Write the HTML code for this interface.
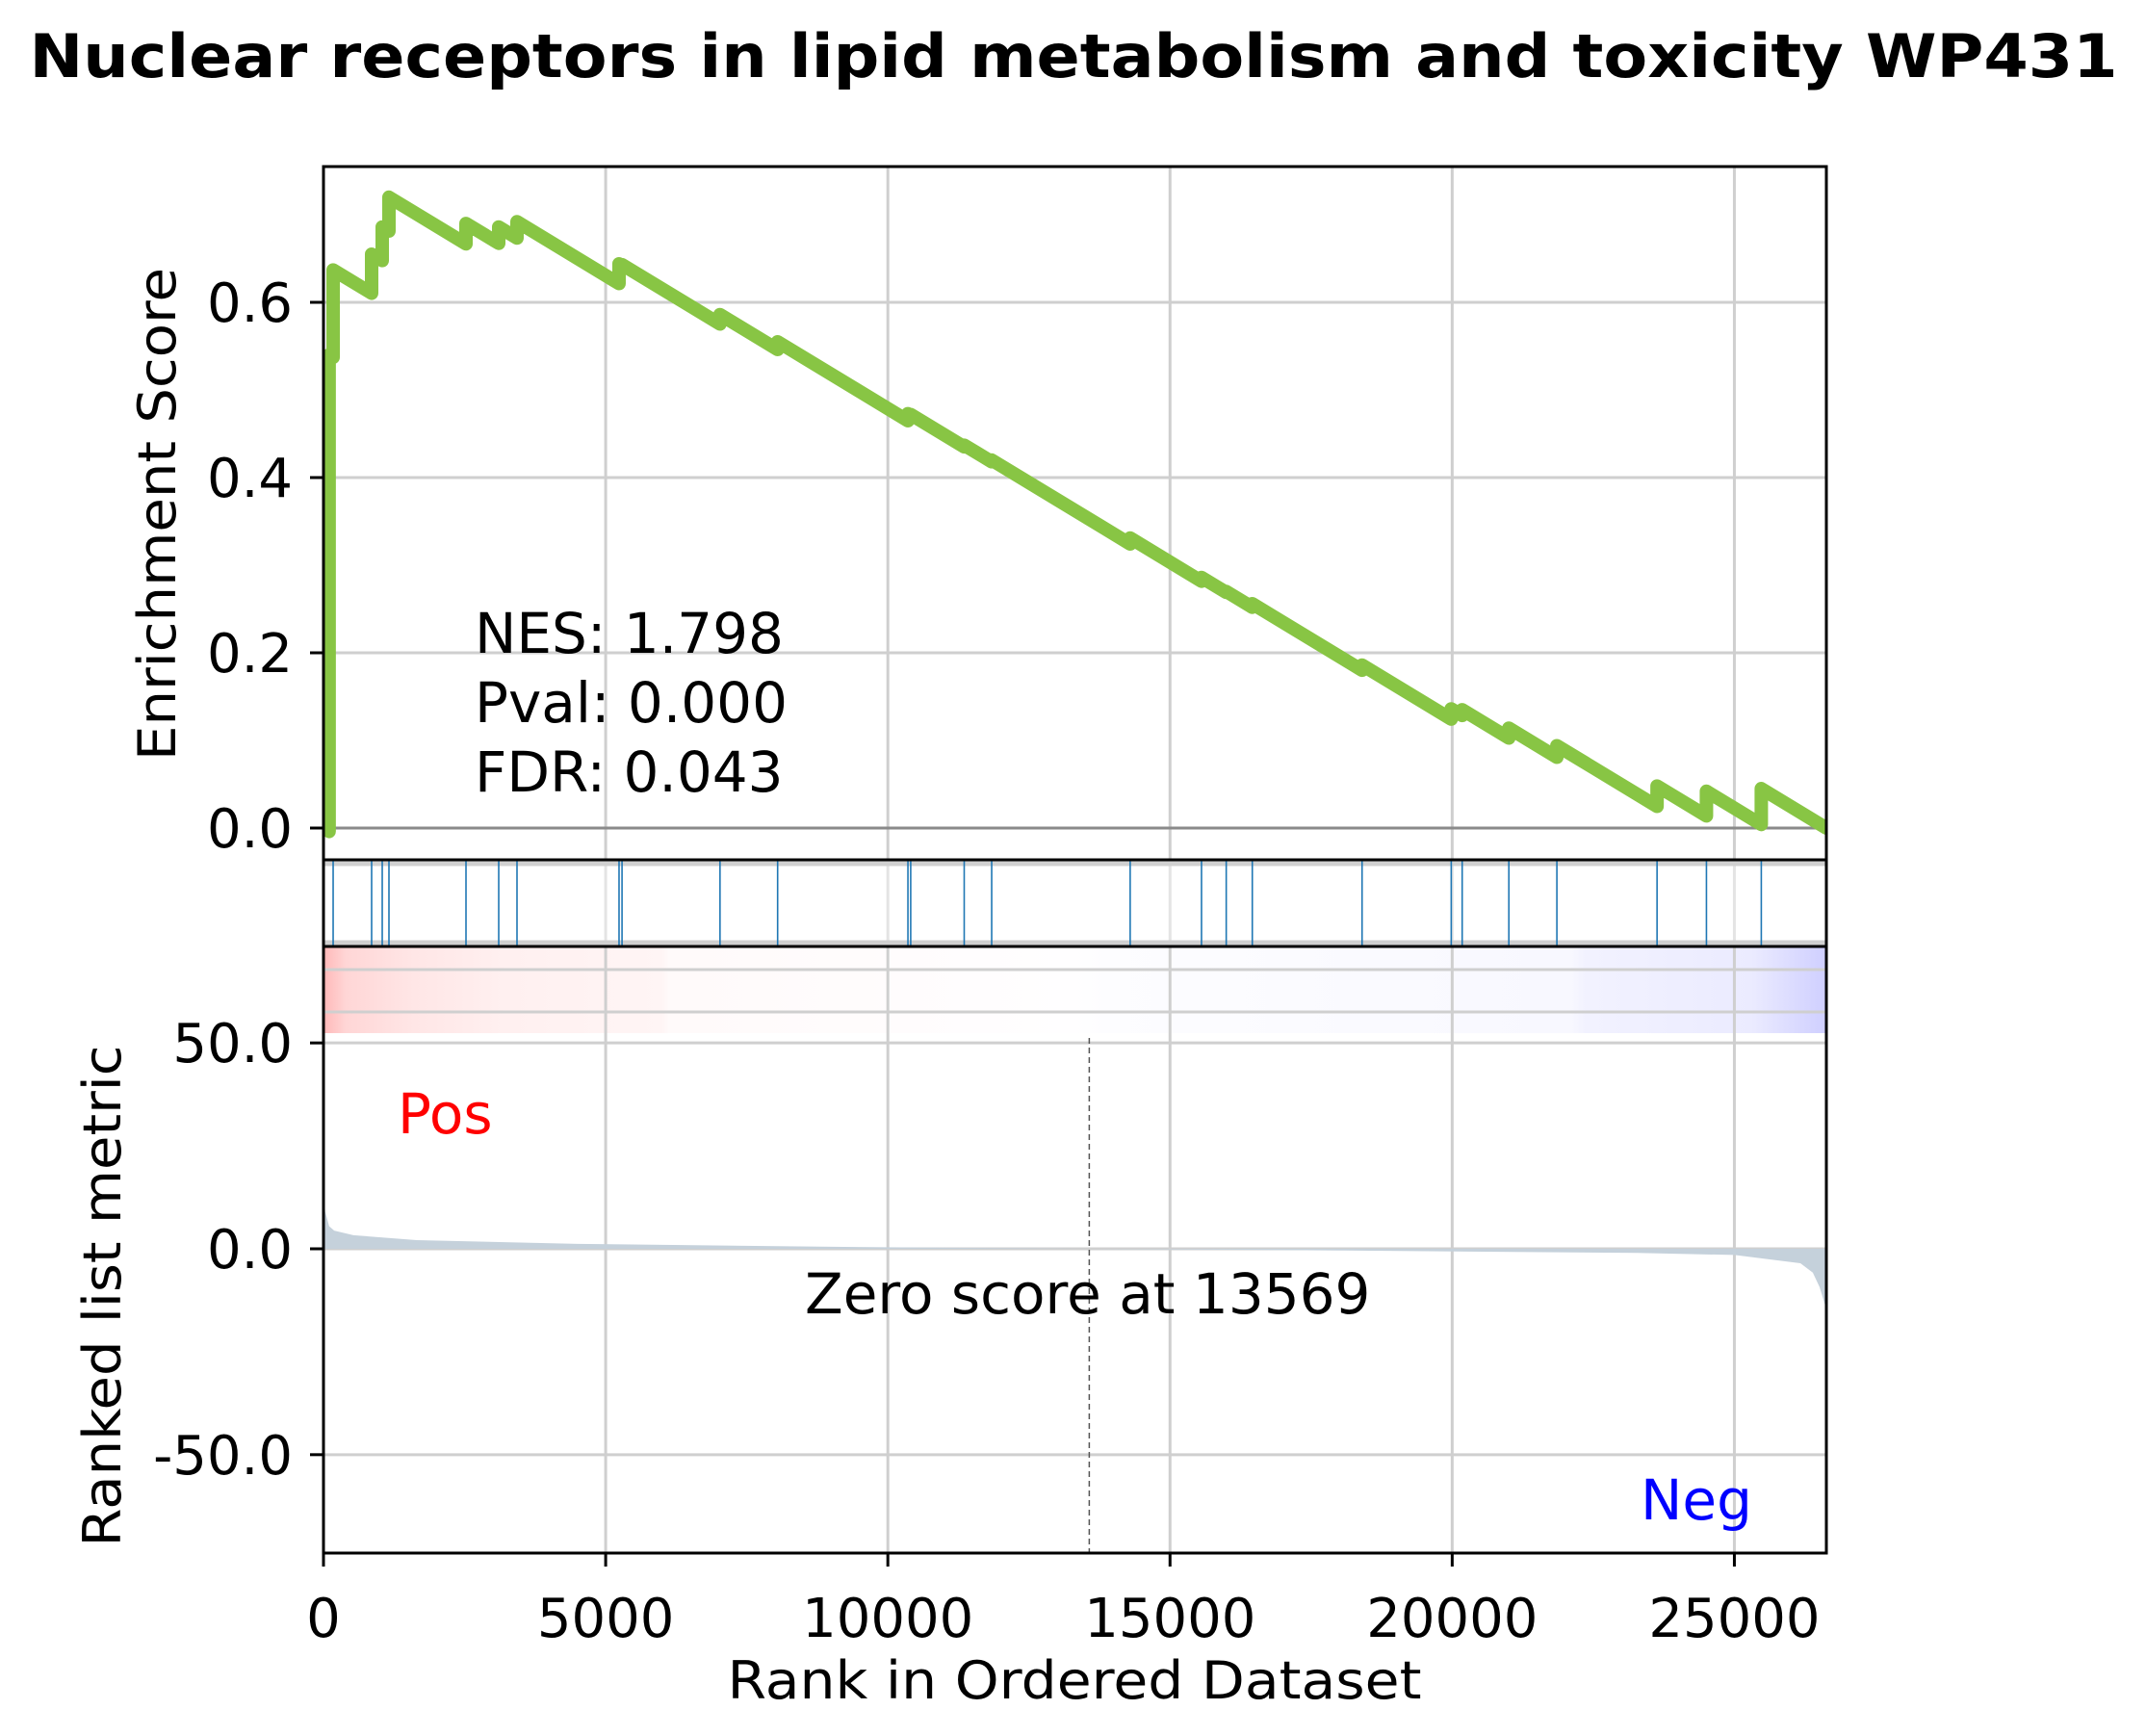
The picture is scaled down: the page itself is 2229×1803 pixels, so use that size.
<!DOCTYPE html>
<html><head><meta charset="utf-8"><style>
html,body{margin:0;padding:0;background:#fff}
svg{display:block;font-family:"DejaVu Sans","Liberation Sans",sans-serif}
</style></head><body>
<svg id="chart" width="2229" height="1803" viewBox="0 0 2229 1803" xmlns="http://www.w3.org/2000/svg">
<defs>
<linearGradient id="rankGrad" x1="0" x2="1" y1="0" y2="0">
<stop offset="0" stop-color="#ffb8b8"/>
<stop offset="0.015" stop-color="#ffd6d6"/>
<stop offset="0.06" stop-color="#ffe6e6"/>
<stop offset="0.12" stop-color="#fff0f0"/>
<stop offset="0.225" stop-color="#fff5f5"/>
<stop offset="0.23" stop-color="#fffafa"/>
<stop offset="0.5" stop-color="#fffeff"/>
<stop offset="0.52" stop-color="#fdfdff"/>
<stop offset="0.83" stop-color="#f8f8ff"/>
<stop offset="0.84" stop-color="#f2f2ff"/>
<stop offset="0.95" stop-color="#ebebff"/>
<stop offset="1" stop-color="#cfcfff"/>
</linearGradient>
<clipPath id="esClipPath"><rect x="336" y="173" width="1561" height="720"/></clipPath>
</defs>
<text x="1115" y="80" font-size="62" font-weight="bold" text-anchor="middle" textLength="2169" lengthAdjust="spacingAndGlyphs">Nuclear receptors in lipid metabolism and toxicity WP431</text>
<g id="esPanel"></g>
<g id="hitPanel"></g>
<g id="rankPanel"></g>
<text transform="translate(182,534) rotate(-90)" font-size="54" text-anchor="middle" textLength="512" lengthAdjust="spacingAndGlyphs">Enrichment Score</text>
<text transform="translate(125,1346) rotate(-90)" font-size="54" text-anchor="middle" textLength="521" lengthAdjust="spacingAndGlyphs">Ranked list metric</text>
<text x="1116" y="1764" font-size="54" text-anchor="middle" textLength="721" lengthAdjust="spacingAndGlyphs">Rank in Ordered Dataset</text>
</svg>
<script>
const N = 26630;
const hitRanks = [100,171,853,1041,1160,2525,3105,3429,5237,5290,7026,8047,10356,10405,11353,11840,14294,15558,15996,16458,18403,19983,20177,21004,21855,23630,24505,25477];
const esAfterHit = [0.54,0.637,0.655,0.686,0.72,0.69,0.686,0.692,0.644,0.643,0.586,0.555,0.473,0.472,0.437,0.42,0.331,0.286,0.27,0.256,0.186,0.136,0.135,0.114,0.094,0.048,0.042,0.045];
const metricRanks = [0,30,100,190,530,1650,4500,9000,13569,18000,23270,25000,26170,26390,26510,26630];
const metricValues = [14,9,5.5,4.4,3.3,2.1,1.2,0.5,0,-0.4,-1.0,-1.5,-3.5,-5.8,-9.3,-14.7];
const xTicks = [0,5000,10000,15000,20000,25000];
const xTickLabels = ["0","5000","10000","15000","20000","25000"];
const esTicks = [0,0.2,0.4,0.6];
const esTickLabels = ["0.0","0.2","0.4","0.6"];
const mTicks = [50,0,-50];
const mTickLabels = ["50.0","0.0","-50.0"];
const zeroScoreRank = 13569;
const statLines = ["NES: 1.798","Pval: 0.000","FDR: 0.043"];

const NS = "http://www.w3.org/2000/svg";
const L = 336, R = 1897;
const ES_T = 173, ES_B = 893, HIT_B = 983, M_B = 1613;
const xS = r => L + r * (R - L) / N;
const esY = v => 860 - v * 910;
const mY = v => 1297 - v * 4.2765;
function mk(tag, attrs, parent) {
  const e = document.createElementNS(NS, tag);
  for (const k in attrs) e.setAttribute(k, attrs[k]);
  parent.appendChild(e);
  return e;
}
const es = document.getElementById('esPanel');
const hp = document.getElementById('hitPanel');
const rp = document.getElementById('rankPanel');
const TICKF = 56, ANNF = 58;

xTicks.forEach((t, i) => {
  const g = mk('line', {x1: xS(t), x2: xS(t), y1: ES_T, y2: ES_B, stroke: '#cfcfcf', 'stroke-width': 3}, es);
  
  
});
esTicks.forEach((t, i) => {
  const g = mk('line', {x1: L, x2: R, y1: esY(t), y2: esY(t), stroke: t === 0 ? '#8a8a8a' : '#cfcfcf', 'stroke-width': 3}, es);
  
  
  const tk = mk('line', {x1: L - 14, x2: L, y1: esY(t), y2: esY(t), stroke: '#000', 'stroke-width': 3}, es);
  
  
  const lb = mk('text', {x: 304, y: esY(t) + 20, 'font-size': TICKF, 'text-anchor': 'end'}, es);
  lb.textContent = esTickLabels[i];
  
  
});
let d = 'M' + (xS(0) + 5) + ',' + esY(0);
const slope = esAfterHit[esAfterHit.length - 1] / (N - hitRanks[hitRanks.length - 1]);
let prevR = 0, prevV = 0;
hitRanks.forEach((r, i) => {
  const before = prevV - slope * (r - prevR);
  d += ' L' + xS(r) + ',' + esY(before) + ' L' + xS(r) + ',' + esY(esAfterHit[i]);
  prevR = r; prevV = esAfterHit[i];
});
d += ' L' + xS(N) + ',' + esY(prevV - slope * (N - prevR));
const esLine = mk('path', {d: d, fill: 'none', stroke: '#88c544', 'stroke-width': 14, 'stroke-linejoin': 'round', 'stroke-linecap': 'round', 'clip-path': 'url(#esClipPath)'}, es);


const esFrame = mk('rect', {x: L, y: ES_T, width: R - L, height: ES_B - ES_T, fill: 'none', stroke: '#000', 'stroke-width': 3}, es);


statLines.forEach((s, i) => {
  const t = mk('text', {x: 493, y: 678 + i * 72, 'font-size': ANNF}, es);
  t.textContent = s;
  
  
});

xTicks.forEach(t => {
  const g = mk('line', {x1: xS(t), x2: xS(t), y1: ES_B, y2: HIT_B, stroke: '#e4e4e4', 'stroke-width': 3}, hp);
  
  
});
[897, 979].forEach(y => {
  const g = mk('line', {x1: L, x2: R, y1: y, y2: y, stroke: '#d0d0d0', 'stroke-width': 5}, hp);
  
  
});
hitRanks.forEach(r => {
  if (r < 150) return;
  const h = mk('line', {x1: xS(r), x2: xS(r), y1: ES_B, y2: HIT_B, stroke: '#1f77b4', 'stroke-width': 1.6}, hp);
  
  
});
const hf = mk('rect', {x: L, y: ES_B, width: R - L, height: HIT_B - ES_B, fill: 'none', stroke: '#000', 'stroke-width': 3}, hp);



const grad = mk('rect', {x: L, y: HIT_B, width: R - L, height: 90, fill: 'url(#rankGrad)'}, rp);


xTicks.forEach((t, i) => {
  const g = mk('line', {x1: xS(t), x2: xS(t), y1: HIT_B, y2: M_B, stroke: '#cfcfcf', 'stroke-width': 3}, rp);
  
  
  const tk = mk('line', {x1: xS(t), x2: xS(t), y1: M_B, y2: M_B + 14, stroke: '#000', 'stroke-width': 3}, rp);
  
  
  const lb = mk('text', {x: xS(t), y: 1700, 'font-size': TICKF, 'text-anchor': 'middle'}, rp);
  lb.textContent = xTickLabels[i];
  
  
});
[1007, 1051].forEach(y => {
  const g = mk('line', {x1: L, x2: R, y1: y, y2: y, stroke: '#cfcfcf', 'stroke-width': 3}, rp);
  
  
});
mTicks.forEach((t, i) => {
  const g = mk('line', {x1: L, x2: R, y1: mY(t), y2: mY(t), stroke: '#cfcfcf', 'stroke-width': 3}, rp);
  
  
  const tk = mk('line', {x1: L - 14, x2: L, y1: mY(t), y2: mY(t), stroke: '#000', 'stroke-width': 3}, rp);
  
  
  const lb = mk('text', {x: 304, y: mY(t) + 20, 'font-size': TICKF, 'text-anchor': 'end'}, rp);
  lb.textContent = mTickLabels[i];
  
  
});
let md = 'M' + xS(0) + ',' + mY(0);
metricRanks.forEach((r, i) => { md += ' L' + xS(r) + ',' + mY(metricValues[i]); });
md += ' L' + xS(N) + ',' + mY(0) + ' Z';
const area = mk('path', {d: md, fill: '#c5d1db', stroke: 'none'}, rp);


const zl = mk('line', {x1: xS(zeroScoreRank), x2: xS(zeroScoreRank), y1: 1078, y2: M_B, stroke: '#555', 'stroke-width': 1.5, 'stroke-dasharray': '6,4'}, rp);


const zt = mk('text', {x: 836, y: 1364, 'font-size': ANNF}, rp);
zt.textContent = 'Zero score at ' + zeroScoreRank;


const pos = mk('text', {x: 413, y: 1177, 'font-size': ANNF, fill: '#ff0000'}, rp);
pos.textContent = 'Pos';


const neg = mk('text', {x: 1704, y: 1578, 'font-size': ANNF, fill: '#0000ff'}, rp);
neg.textContent = 'Neg';


const mf = mk('rect', {x: L, y: HIT_B, width: R - L, height: M_B - HIT_B, fill: 'none', stroke: '#000', 'stroke-width': 3}, rp);


</script>
</body></html>
